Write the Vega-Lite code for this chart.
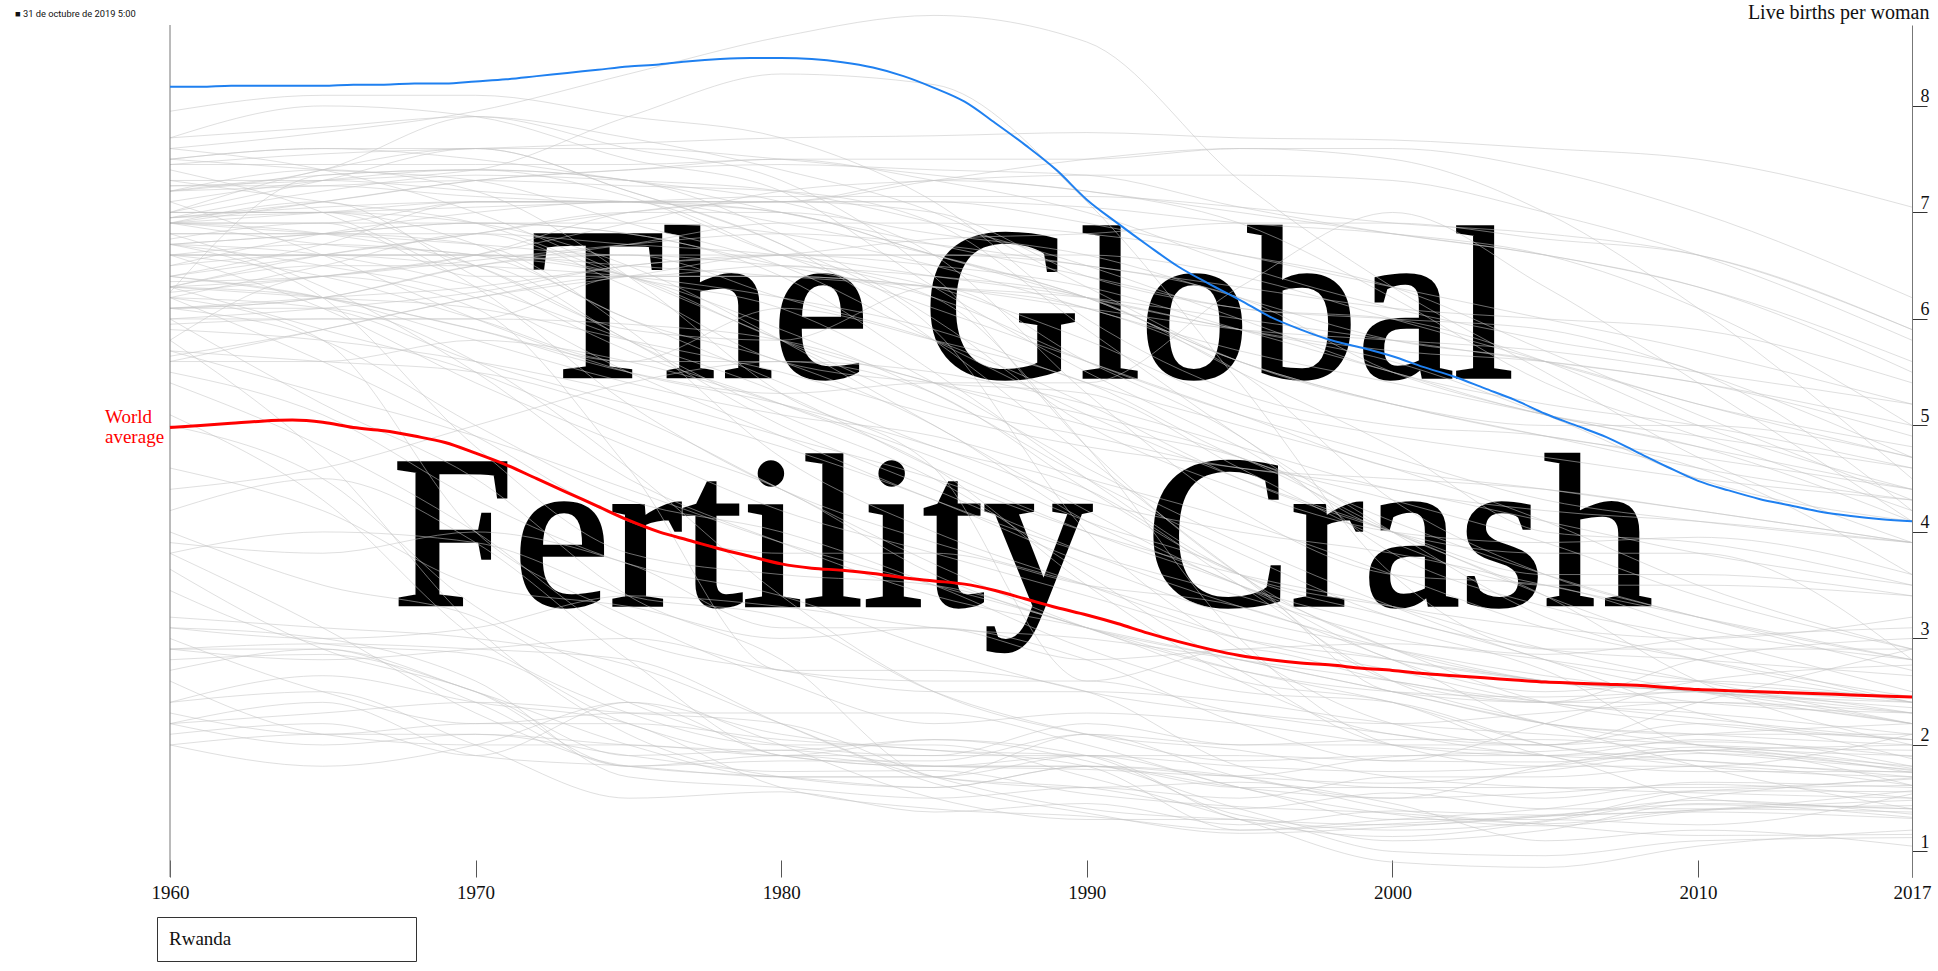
{
"$schema":"https://vega.github.io/schema/vega-lite/v6.json",
"width":1742,"height":852,
"autosize":{"type":"none"},
"padding":{"left":170,"top":25,"right":26,"bottom":94},
"background":"#ffffff",
"config":{"view":{"stroke":null},"font":"Liberation Serif",
 "axis":{"grid":false,"labelFont":"Liberation Serif","labelFontSize":19,"labelColor":"#111111","titleFont":"Liberation Serif"}},
"title":{"text":"■ 31 de octubre de 2019 5:00","anchor":"start","frame":"group","orient":"top","dx":-155,"dy":21.5,"offset":0,"baseline":"middle","font":"Liberation Sans Narrow, Roboto, sans-serif","fontSize":9.3,"fontWeight":"normal","color":"#111111"},
"datasets":{
"countries":[
{"c":"NER","y":1960,"v":7.45},{"c":"NER","y":1965,"v":7.55},{"c":"NER","y":1970,"v":7.6},{"c":"NER","y":1975,"v":7.65},{"c":"NER","y":1980,"v":7.7},{"c":"NER","y":1985,"v":7.72},{"c":"NER","y":1990,"v":7.75},{"c":"NER","y":1995,"v":7.7},{"c":"NER","y":2000,"v":7.68},{"c":"NER","y":2005,"v":7.6},{"c":"NER","y":2010,"v":7.5},{"c":"NER","y":2017,"v":7.05},
{"c":"YEM","y":1960,"v":7.6},{"c":"YEM","y":1965,"v":7.75},{"c":"YEM","y":1970,"v":7.95},{"c":"YEM","y":1975,"v":8.3},{"c":"YEM","y":1980,"v":8.65},{"c":"YEM","y":1985,"v":8.85},{"c":"YEM","y":1990,"v":8.6},{"c":"YEM","y":1995,"v":7.3},{"c":"YEM","y":2000,"v":6.3},{"c":"YEM","y":2005,"v":5.5},{"c":"YEM","y":2010,"v":4.7},{"c":"YEM","y":2017,"v":3.9},
{"c":"OMN","y":1960,"v":7.25},{"c":"OMN","y":1965,"v":7.3},{"c":"OMN","y":1970,"v":7.4},{"c":"OMN","y":1975,"v":7.9},{"c":"OMN","y":1980,"v":8.3},{"c":"OMN","y":1985,"v":8.2},{"c":"OMN","y":1990,"v":7.1},{"c":"OMN","y":1995,"v":5.4},{"c":"OMN","y":2000,"v":3.6},{"c":"OMN","y":2005,"v":2.9},{"c":"OMN","y":2010,"v":2.9},{"c":"OMN","y":2017,"v":2.9},
{"c":"SOM","y":1960,"v":7.25},{"c":"SOM","y":1965,"v":7.25},{"c":"SOM","y":1970,"v":7.15},{"c":"SOM","y":1975,"v":7.1},{"c":"SOM","y":1980,"v":7.1},{"c":"SOM","y":1985,"v":7.3},{"c":"SOM","y":1990,"v":7.5},{"c":"SOM","y":1995,"v":7.6},{"c":"SOM","y":2000,"v":7.6},{"c":"SOM","y":2005,"v":7.4},{"c":"SOM","y":2010,"v":7.0},{"c":"SOM","y":2017,"v":6.2},
{"c":"MLI","y":1960,"v":6.95},{"c":"MLI","y":1965,"v":7.0},{"c":"MLI","y":1970,"v":7.05},{"c":"MLI","y":1975,"v":7.1},{"c":"MLI","y":1980,"v":7.15},{"c":"MLI","y":1985,"v":7.15},{"c":"MLI","y":1990,"v":7.15},{"c":"MLI","y":1995,"v":7.05},{"c":"MLI","y":2000,"v":6.9},{"c":"MLI","y":2005,"v":6.8},{"c":"MLI","y":2010,"v":6.6},{"c":"MLI","y":2017,"v":5.9},
{"c":"TCD","y":1960,"v":6.25},{"c":"TCD","y":1965,"v":6.4},{"c":"TCD","y":1970,"v":6.6},{"c":"TCD","y":1975,"v":6.9},{"c":"TCD","y":1980,"v":7.2},{"c":"TCD","y":1985,"v":7.3},{"c":"TCD","y":1990,"v":7.35},{"c":"TCD","y":1995,"v":7.35},{"c":"TCD","y":2000,"v":7.3},{"c":"TCD","y":2005,"v":7.0},{"c":"TCD","y":2010,"v":6.6},{"c":"TCD","y":2017,"v":5.8},
{"c":"COD","y":1960,"v":6.0},{"c":"COD","y":1965,"v":6.1},{"c":"COD","y":1970,"v":6.25},{"c":"COD","y":1975,"v":6.5},{"c":"COD","y":1980,"v":6.6},{"c":"COD","y":1985,"v":6.75},{"c":"COD","y":1990,"v":6.8},{"c":"COD","y":1995,"v":6.9},{"c":"COD","y":2000,"v":6.9},{"c":"COD","y":2005,"v":6.75},{"c":"COD","y":2010,"v":6.6},{"c":"COD","y":2017,"v":5.9},
{"c":"AGO","y":1960,"v":7.0},{"c":"AGO","y":1965,"v":7.3},{"c":"AGO","y":1970,"v":7.6},{"c":"AGO","y":1975,"v":7.6},{"c":"AGO","y":1980,"v":7.5},{"c":"AGO","y":1985,"v":7.35},{"c":"AGO","y":1990,"v":7.2},{"c":"AGO","y":1995,"v":7.0},{"c":"AGO","y":2000,"v":6.8},{"c":"AGO","y":2005,"v":6.6},{"c":"AGO","y":2010,"v":6.3},{"c":"AGO","y":2017,"v":5.6},
{"c":"BDI","y":1960,"v":6.95},{"c":"BDI","y":1965,"v":7.1},{"c":"BDI","y":1970,"v":7.3},{"c":"BDI","y":1975,"v":7.4},{"c":"BDI","y":1980,"v":7.45},{"c":"BDI","y":1985,"v":7.4},{"c":"BDI","y":1990,"v":7.35},{"c":"BDI","y":1995,"v":7.05},{"c":"BDI","y":2000,"v":6.8},{"c":"BDI","y":2005,"v":6.6},{"c":"BDI","y":2010,"v":6.3},{"c":"BDI","y":2017,"v":5.5},
{"c":"UGA","y":1960,"v":6.95},{"c":"UGA","y":1965,"v":7.05},{"c":"UGA","y":1970,"v":7.1},{"c":"UGA","y":1975,"v":7.1},{"c":"UGA","y":1980,"v":7.1},{"c":"UGA","y":1985,"v":7.1},{"c":"UGA","y":1990,"v":7.05},{"c":"UGA","y":1995,"v":6.9},{"c":"UGA","y":2000,"v":6.8},{"c":"UGA","y":2005,"v":6.6},{"c":"UGA","y":2010,"v":6.1},{"c":"UGA","y":2017,"v":5.0},
{"c":"NGA","y":1960,"v":6.35},{"c":"NGA","y":1965,"v":6.4},{"c":"NGA","y":1970,"v":6.55},{"c":"NGA","y":1975,"v":6.7},{"c":"NGA","y":1980,"v":6.8},{"c":"NGA","y":1985,"v":6.7},{"c":"NGA","y":1990,"v":6.5},{"c":"NGA","y":1995,"v":6.3},{"c":"NGA","y":2000,"v":6.1},{"c":"NGA","y":2005,"v":6.0},{"c":"NGA","y":2010,"v":5.9},{"c":"NGA","y":2017,"v":5.4},
{"c":"KEN","y":1960,"v":7.95},{"c":"KEN","y":1965,"v":8.1},{"c":"KEN","y":1970,"v":8.1},{"c":"KEN","y":1975,"v":7.9},{"c":"KEN","y":1980,"v":7.7},{"c":"KEN","y":1985,"v":7.1},{"c":"KEN","y":1990,"v":6.0},{"c":"KEN","y":1995,"v":5.3},{"c":"KEN","y":2000,"v":5.0},{"c":"KEN","y":2005,"v":4.9},{"c":"KEN","y":2010,"v":4.6},{"c":"KEN","y":2017,"v":3.6},
{"c":"BFA","y":1960,"v":6.3},{"c":"BFA","y":1965,"v":6.4},{"c":"BFA","y":1970,"v":6.6},{"c":"BFA","y":1975,"v":7.0},{"c":"BFA","y":1980,"v":7.1},{"c":"BFA","y":1985,"v":7.1},{"c":"BFA","y":1990,"v":6.9},{"c":"BFA","y":1995,"v":6.6},{"c":"BFA","y":2000,"v":6.3},{"c":"BFA","y":2005,"v":6.0},{"c":"BFA","y":2010,"v":5.7},{"c":"BFA","y":2017,"v":5.2},
{"c":"TZA","y":1960,"v":6.8},{"c":"TZA","y":1965,"v":6.8},{"c":"TZA","y":1970,"v":6.8},{"c":"TZA","y":1975,"v":6.7},{"c":"TZA","y":1980,"v":6.6},{"c":"TZA","y":1985,"v":6.4},{"c":"TZA","y":1990,"v":6.2},{"c":"TZA","y":1995,"v":5.9},{"c":"TZA","y":2000,"v":5.7},{"c":"TZA","y":2005,"v":5.6},{"c":"TZA","y":2010,"v":5.4},{"c":"TZA","y":2017,"v":5.0},
{"c":"MOZ","y":1960,"v":6.6},{"c":"MOZ","y":1965,"v":6.6},{"c":"MOZ","y":1970,"v":6.6},{"c":"MOZ","y":1975,"v":6.5},{"c":"MOZ","y":1980,"v":6.4},{"c":"MOZ","y":1985,"v":6.3},{"c":"MOZ","y":1990,"v":6.2},{"c":"MOZ","y":1995,"v":6.0},{"c":"MOZ","y":2000,"v":5.8},{"c":"MOZ","y":2005,"v":5.6},{"c":"MOZ","y":2010,"v":5.4},{"c":"MOZ","y":2017,"v":4.9},
{"c":"ZMB","y":1960,"v":7.1},{"c":"ZMB","y":1965,"v":7.3},{"c":"ZMB","y":1970,"v":7.4},{"c":"ZMB","y":1975,"v":7.3},{"c":"ZMB","y":1980,"v":7.0},{"c":"ZMB","y":1985,"v":6.7},{"c":"ZMB","y":1990,"v":6.4},{"c":"ZMB","y":1995,"v":6.1},{"c":"ZMB","y":2000,"v":6.0},{"c":"ZMB","y":2005,"v":5.9},{"c":"ZMB","y":2010,"v":5.5},{"c":"ZMB","y":2017,"v":4.7},
{"c":"MWI","y":1960,"v":6.9},{"c":"MWI","y":1965,"v":7.1},{"c":"MWI","y":1970,"v":7.3},{"c":"MWI","y":1975,"v":7.4},{"c":"MWI","y":1980,"v":7.5},{"c":"MWI","y":1985,"v":7.3},{"c":"MWI","y":1990,"v":7.0},{"c":"MWI","y":1995,"v":6.5},{"c":"MWI","y":2000,"v":6.1},{"c":"MWI","y":2005,"v":5.8},{"c":"MWI","y":2010,"v":5.5},{"c":"MWI","y":2017,"v":4.2},
{"c":"ETH","y":1960,"v":6.9},{"c":"ETH","y":1965,"v":6.9},{"c":"ETH","y":1970,"v":7.1},{"c":"ETH","y":1975,"v":7.1},{"c":"ETH","y":1980,"v":7.1},{"c":"ETH","y":1985,"v":7.3},{"c":"ETH","y":1990,"v":7.2},{"c":"ETH","y":1995,"v":6.9},{"c":"ETH","y":2000,"v":6.2},{"c":"ETH","y":2005,"v":5.4},{"c":"ETH","y":2010,"v":4.9},{"c":"ETH","y":2017,"v":4.2},
{"c":"AFG","y":1960,"v":7.45},{"c":"AFG","y":1965,"v":7.45},{"c":"AFG","y":1970,"v":7.45},{"c":"AFG","y":1975,"v":7.45},{"c":"AFG","y":1980,"v":7.5},{"c":"AFG","y":1985,"v":7.5},{"c":"AFG","y":1990,"v":7.5},{"c":"AFG","y":1995,"v":7.6},{"c":"AFG","y":2000,"v":7.5},{"c":"AFG","y":2005,"v":7.0},{"c":"AFG","y":2010,"v":6.1},{"c":"AFG","y":2017,"v":4.5},
{"c":"JOR","y":1960,"v":7.7},{"c":"JOR","y":1965,"v":8.0},{"c":"JOR","y":1970,"v":7.9},{"c":"JOR","y":1975,"v":7.5},{"c":"JOR","y":1980,"v":7.2},{"c":"JOR","y":1985,"v":6.3},{"c":"JOR","y":1990,"v":5.5},{"c":"JOR","y":1995,"v":4.8},{"c":"JOR","y":2000,"v":4.0},{"c":"JOR","y":2005,"v":3.8},{"c":"JOR","y":2010,"v":3.8},{"c":"JOR","y":2017,"v":2.8},
{"c":"SYR","y":1960,"v":7.5},{"c":"SYR","y":1965,"v":7.6},{"c":"SYR","y":1970,"v":7.5},{"c":"SYR","y":1975,"v":7.3},{"c":"SYR","y":1980,"v":7.1},{"c":"SYR","y":1985,"v":6.6},{"c":"SYR","y":1990,"v":5.3},{"c":"SYR","y":1995,"v":4.2},{"c":"SYR","y":2000,"v":3.6},{"c":"SYR","y":2005,"v":3.5},{"c":"SYR","y":2010,"v":3.1},{"c":"SYR","y":2017,"v":2.8},
{"c":"SAU","y":1960,"v":7.2},{"c":"SAU","y":1965,"v":7.25},{"c":"SAU","y":1970,"v":7.3},{"c":"SAU","y":1975,"v":7.25},{"c":"SAU","y":1980,"v":7.2},{"c":"SAU","y":1985,"v":6.9},{"c":"SAU","y":1990,"v":5.9},{"c":"SAU","y":1995,"v":4.9},{"c":"SAU","y":2000,"v":4.0},{"c":"SAU","y":2005,"v":3.2},{"c":"SAU","y":2010,"v":2.8},{"c":"SAU","y":2017,"v":2.4},
{"c":"IRN","y":1960,"v":6.9},{"c":"IRN","y":1965,"v":6.9},{"c":"IRN","y":1970,"v":6.4},{"c":"IRN","y":1975,"v":6.4},{"c":"IRN","y":1980,"v":6.5},{"c":"IRN","y":1985,"v":6.2},{"c":"IRN","y":1990,"v":4.8},{"c":"IRN","y":1995,"v":3.0},{"c":"IRN","y":2000,"v":2.0},{"c":"IRN","y":2005,"v":1.8},{"c":"IRN","y":2010,"v":1.8},{"c":"IRN","y":2017,"v":2.1},
{"c":"DZA","y":1960,"v":7.5},{"c":"DZA","y":1965,"v":7.6},{"c":"DZA","y":1970,"v":7.6},{"c":"DZA","y":1975,"v":7.2},{"c":"DZA","y":1980,"v":6.7},{"c":"DZA","y":1985,"v":5.8},{"c":"DZA","y":1990,"v":4.7},{"c":"DZA","y":1995,"v":3.6},{"c":"DZA","y":2000,"v":2.6},{"c":"DZA","y":2005,"v":2.4},{"c":"DZA","y":2010,"v":2.8},{"c":"DZA","y":2017,"v":3.0},
{"c":"LBY","y":1960,"v":7.2},{"c":"LBY","y":1965,"v":7.4},{"c":"LBY","y":1970,"v":7.9},{"c":"LBY","y":1975,"v":7.6},{"c":"LBY","y":1980,"v":7.3},{"c":"LBY","y":1985,"v":6.4},{"c":"LBY","y":1990,"v":4.8},{"c":"LBY","y":1995,"v":3.6},{"c":"LBY","y":2000,"v":2.9},{"c":"LBY","y":2005,"v":2.6},{"c":"LBY","y":2010,"v":2.5},{"c":"LBY","y":2017,"v":2.2},
{"c":"MAR","y":1960,"v":7.0},{"c":"MAR","y":1965,"v":7.0},{"c":"MAR","y":1970,"v":6.7},{"c":"MAR","y":1975,"v":6.0},{"c":"MAR","y":1980,"v":5.6},{"c":"MAR","y":1985,"v":5.0},{"c":"MAR","y":1990,"v":4.1},{"c":"MAR","y":1995,"v":3.5},{"c":"MAR","y":2000,"v":2.8},{"c":"MAR","y":2005,"v":2.5},{"c":"MAR","y":2010,"v":2.6},{"c":"MAR","y":2017,"v":2.4},
{"c":"IRQ","y":1960,"v":6.25},{"c":"IRQ","y":1965,"v":7.35},{"c":"IRQ","y":1970,"v":7.4},{"c":"IRQ","y":1975,"v":7.15},{"c":"IRQ","y":1980,"v":6.6},{"c":"IRQ","y":1985,"v":6.3},{"c":"IRQ","y":1990,"v":5.8},{"c":"IRQ","y":1995,"v":5.2},{"c":"IRQ","y":2000,"v":4.9},{"c":"IRQ","y":2005,"v":4.7},{"c":"IRQ","y":2010,"v":4.5},{"c":"IRQ","y":2017,"v":4.3},
{"c":"EGY","y":1960,"v":6.6},{"c":"EGY","y":1965,"v":6.4},{"c":"EGY","y":1970,"v":6.0},{"c":"EGY","y":1975,"v":5.6},{"c":"EGY","y":1980,"v":5.6},{"c":"EGY","y":1985,"v":5.3},{"c":"EGY","y":1990,"v":4.4},{"c":"EGY","y":1995,"v":3.6},{"c":"EGY","y":2000,"v":3.3},{"c":"EGY","y":2005,"v":3.1},{"c":"EGY","y":2010,"v":3.0},{"c":"EGY","y":2017,"v":3.2},
{"c":"PAK","y":1960,"v":6.6},{"c":"PAK","y":1965,"v":6.6},{"c":"PAK","y":1970,"v":6.6},{"c":"PAK","y":1975,"v":6.6},{"c":"PAK","y":1980,"v":6.5},{"c":"PAK","y":1985,"v":6.4},{"c":"PAK","y":1990,"v":6.2},{"c":"PAK","y":1995,"v":5.5},{"c":"PAK","y":2000,"v":4.8},{"c":"PAK","y":2005,"v":4.0},{"c":"PAK","y":2010,"v":3.9},{"c":"PAK","y":2017,"v":3.5},
{"c":"BGD","y":1960,"v":6.7},{"c":"BGD","y":1965,"v":6.8},{"c":"BGD","y":1970,"v":6.9},{"c":"BGD","y":1975,"v":6.8},{"c":"BGD","y":1980,"v":6.4},{"c":"BGD","y":1985,"v":5.5},{"c":"BGD","y":1990,"v":4.5},{"c":"BGD","y":1995,"v":3.6},{"c":"BGD","y":2000,"v":3.2},{"c":"BGD","y":2005,"v":2.8},{"c":"BGD","y":2010,"v":2.3},{"c":"BGD","y":2017,"v":2.05},
{"c":"IND","y":1960,"v":5.9},{"c":"IND","y":1965,"v":5.8},{"c":"IND","y":1970,"v":5.6},{"c":"IND","y":1975,"v":5.3},{"c":"IND","y":1980,"v":4.9},{"c":"IND","y":1985,"v":4.5},{"c":"IND","y":1990,"v":4.0},{"c":"IND","y":1995,"v":3.6},{"c":"IND","y":2000,"v":3.3},{"c":"IND","y":2005,"v":2.9},{"c":"IND","y":2010,"v":2.6},{"c":"IND","y":2017,"v":2.2},
{"c":"IDN","y":1960,"v":5.7},{"c":"IDN","y":1965,"v":5.6},{"c":"IDN","y":1970,"v":5.5},{"c":"IDN","y":1975,"v":5.1},{"c":"IDN","y":1980,"v":4.4},{"c":"IDN","y":1985,"v":3.7},{"c":"IDN","y":1990,"v":3.1},{"c":"IDN","y":1995,"v":2.7},{"c":"IDN","y":2000,"v":2.5},{"c":"IDN","y":2005,"v":2.45},{"c":"IDN","y":2010,"v":2.5},{"c":"IDN","y":2017,"v":2.3},
{"c":"PHL","y":1960,"v":7.1},{"c":"PHL","y":1965,"v":6.6},{"c":"PHL","y":1970,"v":6.0},{"c":"PHL","y":1975,"v":5.5},{"c":"PHL","y":1980,"v":5.2},{"c":"PHL","y":1985,"v":4.8},{"c":"PHL","y":1990,"v":4.3},{"c":"PHL","y":1995,"v":4.0},{"c":"PHL","y":2000,"v":3.8},{"c":"PHL","y":2005,"v":3.5},{"c":"PHL","y":2010,"v":3.2},{"c":"PHL","y":2017,"v":2.8},
{"c":"MEX","y":1960,"v":6.8},{"c":"MEX","y":1965,"v":6.8},{"c":"MEX","y":1970,"v":6.7},{"c":"MEX","y":1975,"v":5.9},{"c":"MEX","y":1980,"v":4.7},{"c":"MEX","y":1985,"v":4.0},{"c":"MEX","y":1990,"v":3.5},{"c":"MEX","y":1995,"v":3.0},{"c":"MEX","y":2000,"v":2.7},{"c":"MEX","y":2005,"v":2.4},{"c":"MEX","y":2010,"v":2.3},{"c":"MEX","y":2017,"v":2.1},
{"c":"BRA","y":1960,"v":6.1},{"c":"BRA","y":1965,"v":5.8},{"c":"BRA","y":1970,"v":5.0},{"c":"BRA","y":1975,"v":4.3},{"c":"BRA","y":1980,"v":4.0},{"c":"BRA","y":1985,"v":3.5},{"c":"BRA","y":1990,"v":2.9},{"c":"BRA","y":1995,"v":2.5},{"c":"BRA","y":2000,"v":2.4},{"c":"BRA","y":2005,"v":2.0},{"c":"BRA","y":2010,"v":1.8},{"c":"BRA","y":2017,"v":1.7},
{"c":"COL","y":1960,"v":6.8},{"c":"COL","y":1965,"v":6.3},{"c":"COL","y":1970,"v":5.5},{"c":"COL","y":1975,"v":4.5},{"c":"COL","y":1980,"v":3.9},{"c":"COL","y":1985,"v":3.4},{"c":"COL","y":1990,"v":3.1},{"c":"COL","y":1995,"v":2.8},{"c":"COL","y":2000,"v":2.5},{"c":"COL","y":2005,"v":2.2},{"c":"COL","y":2010,"v":2.0},{"c":"COL","y":2017,"v":1.8},
{"c":"PER","y":1960,"v":6.9},{"c":"PER","y":1965,"v":6.8},{"c":"PER","y":1970,"v":6.5},{"c":"PER","y":1975,"v":5.8},{"c":"PER","y":1980,"v":5.0},{"c":"PER","y":1985,"v":4.4},{"c":"PER","y":1990,"v":3.8},{"c":"PER","y":1995,"v":3.3},{"c":"PER","y":2000,"v":2.9},{"c":"PER","y":2005,"v":2.6},{"c":"PER","y":2010,"v":2.5},{"c":"PER","y":2017,"v":2.3},
{"c":"BOL","y":1960,"v":6.5},{"c":"BOL","y":1965,"v":6.6},{"c":"BOL","y":1970,"v":6.6},{"c":"BOL","y":1975,"v":6.4},{"c":"BOL","y":1980,"v":5.8},{"c":"BOL","y":1985,"v":5.4},{"c":"BOL","y":1990,"v":5.0},{"c":"BOL","y":1995,"v":4.7},{"c":"BOL","y":2000,"v":4.1},{"c":"BOL","y":2005,"v":3.6},{"c":"BOL","y":2010,"v":3.2},{"c":"BOL","y":2017,"v":2.8},
{"c":"GTM","y":1960,"v":6.6},{"c":"GTM","y":1965,"v":6.6},{"c":"GTM","y":1970,"v":6.5},{"c":"GTM","y":1975,"v":6.4},{"c":"GTM","y":1980,"v":6.2},{"c":"GTM","y":1985,"v":5.9},{"c":"GTM","y":1990,"v":5.4},{"c":"GTM","y":1995,"v":5.0},{"c":"GTM","y":2000,"v":4.6},{"c":"GTM","y":2005,"v":4.1},{"c":"GTM","y":2010,"v":3.5},{"c":"GTM","y":2017,"v":2.9},
{"c":"HND","y":1960,"v":7.5},{"c":"HND","y":1965,"v":7.4},{"c":"HND","y":1970,"v":7.3},{"c":"HND","y":1975,"v":6.9},{"c":"HND","y":1980,"v":6.5},{"c":"HND","y":1985,"v":5.8},{"c":"HND","y":1990,"v":5.1},{"c":"HND","y":1995,"v":4.5},{"c":"HND","y":2000,"v":4.0},{"c":"HND","y":2005,"v":3.4},{"c":"HND","y":2010,"v":2.9},{"c":"HND","y":2017,"v":2.4},
{"c":"NIC","y":1960,"v":7.3},{"c":"NIC","y":1965,"v":7.1},{"c":"NIC","y":1970,"v":6.9},{"c":"NIC","y":1975,"v":6.4},{"c":"NIC","y":1980,"v":6.1},{"c":"NIC","y":1985,"v":5.4},{"c":"NIC","y":1990,"v":4.6},{"c":"NIC","y":1995,"v":3.9},{"c":"NIC","y":2000,"v":3.3},{"c":"NIC","y":2005,"v":2.8},{"c":"NIC","y":2010,"v":2.5},{"c":"NIC","y":2017,"v":2.2},
{"c":"TUR","y":1960,"v":6.3},{"c":"TUR","y":1965,"v":5.9},{"c":"TUR","y":1970,"v":5.5},{"c":"TUR","y":1975,"v":4.9},{"c":"TUR","y":1980,"v":4.4},{"c":"TUR","y":1985,"v":3.6},{"c":"TUR","y":1990,"v":3.1},{"c":"TUR","y":1995,"v":2.8},{"c":"TUR","y":2000,"v":2.5},{"c":"TUR","y":2005,"v":2.2},{"c":"TUR","y":2010,"v":2.1},{"c":"TUR","y":2017,"v":2.1},
{"c":"THA","y":1960,"v":6.1},{"c":"THA","y":1965,"v":6.1},{"c":"THA","y":1970,"v":5.6},{"c":"THA","y":1975,"v":4.6},{"c":"THA","y":1980,"v":3.4},{"c":"THA","y":1985,"v":2.5},{"c":"THA","y":1990,"v":2.1},{"c":"THA","y":1995,"v":1.95},{"c":"THA","y":2000,"v":1.7},{"c":"THA","y":2005,"v":1.6},{"c":"THA","y":2010,"v":1.55},{"c":"THA","y":2017,"v":1.5},
{"c":"KOR","y":1960,"v":6.0},{"c":"KOR","y":1965,"v":5.2},{"c":"KOR","y":1970,"v":4.5},{"c":"KOR","y":1975,"v":3.4},{"c":"KOR","y":1980,"v":2.8},{"c":"KOR","y":1985,"v":1.7},{"c":"KOR","y":1990,"v":1.6},{"c":"KOR","y":1995,"v":1.65},{"c":"KOR","y":2000,"v":1.45},{"c":"KOR","y":2005,"v":1.1},{"c":"KOR","y":2010,"v":1.2},{"c":"KOR","y":2017,"v":1.05},
{"c":"CHN","y":1960,"v":5.8},{"c":"CHN","y":1965,"v":6.4},{"c":"CHN","y":1970,"v":6.1},{"c":"CHN","y":1975,"v":4.6},{"c":"CHN","y":1980,"v":2.7},{"c":"CHN","y":1985,"v":2.7},{"c":"CHN","y":1990,"v":2.5},{"c":"CHN","y":1995,"v":1.8},{"c":"CHN","y":2000,"v":1.6},{"c":"CHN","y":2005,"v":1.6},{"c":"CHN","y":2010,"v":1.6},{"c":"CHN","y":2017,"v":1.68},
{"c":"VNM","y":1960,"v":6.3},{"c":"VNM","y":1965,"v":6.5},{"c":"VNM","y":1970,"v":6.5},{"c":"VNM","y":1975,"v":5.8},{"c":"VNM","y":1980,"v":5.1},{"c":"VNM","y":1985,"v":4.5},{"c":"VNM","y":1990,"v":3.6},{"c":"VNM","y":1995,"v":2.7},{"c":"VNM","y":2000,"v":2.0},{"c":"VNM","y":2005,"v":1.9},{"c":"VNM","y":2010,"v":1.95},{"c":"VNM","y":2017,"v":2.0},
{"c":"SGP","y":1960,"v":5.8},{"c":"SGP","y":1965,"v":4.7},{"c":"SGP","y":1970,"v":3.1},{"c":"SGP","y":1975,"v":2.1},{"c":"SGP","y":1980,"v":1.7},{"c":"SGP","y":1985,"v":1.6},{"c":"SGP","y":1990,"v":1.8},{"c":"SGP","y":1995,"v":1.7},{"c":"SGP","y":2000,"v":1.4},{"c":"SGP","y":2005,"v":1.25},{"c":"SGP","y":2010,"v":1.15},{"c":"SGP","y":2017,"v":1.16},
{"c":"HKG","y":1960,"v":5.0},{"c":"HKG","y":1965,"v":4.5},{"c":"HKG","y":1970,"v":3.3},{"c":"HKG","y":1975,"v":2.6},{"c":"HKG","y":1980,"v":2.0},{"c":"HKG","y":1985,"v":1.5},{"c":"HKG","y":1990,"v":1.3},{"c":"HKG","y":1995,"v":1.3},{"c":"HKG","y":2000,"v":1.0},{"c":"HKG","y":2005,"v":0.96},{"c":"HKG","y":2010,"v":1.1},{"c":"HKG","y":2017,"v":1.13},
{"c":"MAC","y":1960,"v":5.1},{"c":"MAC","y":1965,"v":4.3},{"c":"MAC","y":1970,"v":3.0},{"c":"MAC","y":1975,"v":2.3},{"c":"MAC","y":1980,"v":2.0},{"c":"MAC","y":1985,"v":2.0},{"c":"MAC","y":1990,"v":1.7},{"c":"MAC","y":1995,"v":1.3},{"c":"MAC","y":2000,"v":0.9},{"c":"MAC","y":2005,"v":0.85},{"c":"MAC","y":2010,"v":1.05},{"c":"MAC","y":2017,"v":1.2},
{"c":"ZAF","y":1960,"v":6.2},{"c":"ZAF","y":1965,"v":6.1},{"c":"ZAF","y":1970,"v":5.6},{"c":"ZAF","y":1975,"v":5.2},{"c":"ZAF","y":1980,"v":4.8},{"c":"ZAF","y":1985,"v":4.3},{"c":"ZAF","y":1990,"v":3.7},{"c":"ZAF","y":1995,"v":3.2},{"c":"ZAF","y":2000,"v":2.9},{"c":"ZAF","y":2005,"v":2.65},{"c":"ZAF","y":2010,"v":2.5},{"c":"ZAF","y":2017,"v":2.4},
{"c":"GHA","y":1960,"v":6.75},{"c":"GHA","y":1965,"v":6.9},{"c":"GHA","y":1970,"v":6.9},{"c":"GHA","y":1975,"v":6.8},{"c":"GHA","y":1980,"v":6.5},{"c":"GHA","y":1985,"v":6.2},{"c":"GHA","y":1990,"v":5.6},{"c":"GHA","y":1995,"v":5.1},{"c":"GHA","y":2000,"v":4.7},{"c":"GHA","y":2005,"v":4.3},{"c":"GHA","y":2010,"v":4.1},{"c":"GHA","y":2017,"v":3.9},
{"c":"SEN","y":1960,"v":6.95},{"c":"SEN","y":1965,"v":7.2},{"c":"SEN","y":1970,"v":7.35},{"c":"SEN","y":1975,"v":7.3},{"c":"SEN","y":1980,"v":7.2},{"c":"SEN","y":1985,"v":6.9},{"c":"SEN","y":1990,"v":6.5},{"c":"SEN","y":1995,"v":6.0},{"c":"SEN","y":2000,"v":5.5},{"c":"SEN","y":2005,"v":5.2},{"c":"SEN","y":2010,"v":5.0},{"c":"SEN","y":2017,"v":4.6},
{"c":"CMR","y":1960,"v":5.65},{"c":"CMR","y":1965,"v":5.9},{"c":"CMR","y":1970,"v":6.2},{"c":"CMR","y":1975,"v":6.4},{"c":"CMR","y":1980,"v":6.6},{"c":"CMR","y":1985,"v":6.5},{"c":"CMR","y":1990,"v":6.3},{"c":"CMR","y":1995,"v":5.9},{"c":"CMR","y":2000,"v":5.5},{"c":"CMR","y":2005,"v":5.1},{"c":"CMR","y":2010,"v":4.9},{"c":"CMR","y":2017,"v":4.6},
{"c":"SDN","y":1960,"v":6.7},{"c":"SDN","y":1965,"v":6.8},{"c":"SDN","y":1970,"v":6.9},{"c":"SDN","y":1975,"v":6.9},{"c":"SDN","y":1980,"v":6.8},{"c":"SDN","y":1985,"v":6.5},{"c":"SDN","y":1990,"v":6.1},{"c":"SDN","y":1995,"v":5.7},{"c":"SDN","y":2000,"v":5.4},{"c":"SDN","y":2005,"v":5.1},{"c":"SDN","y":2010,"v":4.8},{"c":"SDN","y":2017,"v":4.4},
{"c":"MDG","y":1960,"v":7.3},{"c":"MDG","y":1965,"v":7.3},{"c":"MDG","y":1970,"v":7.2},{"c":"MDG","y":1975,"v":7.1},{"c":"MDG","y":1980,"v":7.0},{"c":"MDG","y":1985,"v":6.6},{"c":"MDG","y":1990,"v":6.2},{"c":"MDG","y":1995,"v":5.9},{"c":"MDG","y":2000,"v":5.6},{"c":"MDG","y":2005,"v":5.1},{"c":"MDG","y":2010,"v":4.5},{"c":"MDG","y":2017,"v":4.1},
{"c":"ZWE","y":1960,"v":7.2},{"c":"ZWE","y":1965,"v":7.35},{"c":"ZWE","y":1970,"v":7.4},{"c":"ZWE","y":1975,"v":7.3},{"c":"ZWE","y":1980,"v":6.8},{"c":"ZWE","y":1985,"v":6.0},{"c":"ZWE","y":1990,"v":5.0},{"c":"ZWE","y":1995,"v":4.4},{"c":"ZWE","y":2000,"v":4.0},{"c":"ZWE","y":2005,"v":3.9},{"c":"ZWE","y":2010,"v":3.95},{"c":"ZWE","y":2017,"v":3.6},
{"c":"BWA","y":1960,"v":6.6},{"c":"BWA","y":1965,"v":6.7},{"c":"BWA","y":1970,"v":6.6},{"c":"BWA","y":1975,"v":6.4},{"c":"BWA","y":1980,"v":5.9},{"c":"BWA","y":1985,"v":5.3},{"c":"BWA","y":1990,"v":4.5},{"c":"BWA","y":1995,"v":3.8},{"c":"BWA","y":2000,"v":3.2},{"c":"BWA","y":2005,"v":2.9},{"c":"BWA","y":2010,"v":2.8},{"c":"BWA","y":2017,"v":2.65},
{"c":"CIV","y":1960,"v":7.7},{"c":"CIV","y":1965,"v":7.8},{"c":"CIV","y":1970,"v":7.9},{"c":"CIV","y":1975,"v":7.7},{"c":"CIV","y":1980,"v":7.4},{"c":"CIV","y":1985,"v":7.0},{"c":"CIV","y":1990,"v":6.3},{"c":"CIV","y":1995,"v":5.6},{"c":"CIV","y":2000,"v":5.2},{"c":"CIV","y":2005,"v":5.0},{"c":"CIV","y":2010,"v":5.0},{"c":"CIV","y":2017,"v":4.7},
{"c":"BEN","y":1960,"v":6.3},{"c":"BEN","y":1965,"v":6.6},{"c":"BEN","y":1970,"v":6.8},{"c":"BEN","y":1975,"v":7.0},{"c":"BEN","y":1980,"v":7.0},{"c":"BEN","y":1985,"v":6.8},{"c":"BEN","y":1990,"v":6.6},{"c":"BEN","y":1995,"v":6.2},{"c":"BEN","y":2000,"v":5.8},{"c":"BEN","y":2005,"v":5.6},{"c":"BEN","y":2010,"v":5.2},{"c":"BEN","y":2017,"v":4.8},
{"c":"MNG","y":1960,"v":7.0},{"c":"MNG","y":1965,"v":7.4},{"c":"MNG","y":1970,"v":7.6},{"c":"MNG","y":1975,"v":7.2},{"c":"MNG","y":1980,"v":6.7},{"c":"MNG","y":1985,"v":5.9},{"c":"MNG","y":1990,"v":4.0},{"c":"MNG","y":1995,"v":2.9},{"c":"MNG","y":2000,"v":2.2},{"c":"MNG","y":2005,"v":2.0},{"c":"MNG","y":2010,"v":2.4},{"c":"MNG","y":2017,"v":2.9},
{"c":"NPL","y":1960,"v":5.95},{"c":"NPL","y":1965,"v":6.0},{"c":"NPL","y":1970,"v":6.0},{"c":"NPL","y":1975,"v":5.95},{"c":"NPL","y":1980,"v":5.8},{"c":"NPL","y":1985,"v":5.4},{"c":"NPL","y":1990,"v":5.1},{"c":"NPL","y":1995,"v":4.7},{"c":"NPL","y":2000,"v":4.0},{"c":"NPL","y":2005,"v":3.4},{"c":"NPL","y":2010,"v":2.6},{"c":"NPL","y":2017,"v":2.0},
{"c":"KHM","y":1960,"v":7.0},{"c":"KHM","y":1965,"v":7.0},{"c":"KHM","y":1970,"v":6.5},{"c":"KHM","y":1975,"v":5.9},{"c":"KHM","y":1980,"v":5.8},{"c":"KHM","y":1985,"v":6.3},{"c":"KHM","y":1990,"v":5.6},{"c":"KHM","y":1995,"v":4.9},{"c":"KHM","y":2000,"v":3.8},{"c":"KHM","y":2005,"v":3.3},{"c":"KHM","y":2010,"v":3.0},{"c":"KHM","y":2017,"v":2.5},
{"c":"LAO","y":1960,"v":6.0},{"c":"LAO","y":1965,"v":6.0},{"c":"LAO","y":1970,"v":6.0},{"c":"LAO","y":1975,"v":6.4},{"c":"LAO","y":1980,"v":6.4},{"c":"LAO","y":1985,"v":6.3},{"c":"LAO","y":1990,"v":6.1},{"c":"LAO","y":1995,"v":5.5},{"c":"LAO","y":2000,"v":4.3},{"c":"LAO","y":2005,"v":3.6},{"c":"LAO","y":2010,"v":3.2},{"c":"LAO","y":2017,"v":2.7},
{"c":"MYS","y":1960,"v":6.2},{"c":"MYS","y":1965,"v":5.6},{"c":"MYS","y":1970,"v":4.9},{"c":"MYS","y":1975,"v":4.1},{"c":"MYS","y":1980,"v":3.8},{"c":"MYS","y":1985,"v":3.8},{"c":"MYS","y":1990,"v":3.5},{"c":"MYS","y":1995,"v":3.3},{"c":"MYS","y":2000,"v":2.8},{"c":"MYS","y":2005,"v":2.2},{"c":"MYS","y":2010,"v":2.1},{"c":"MYS","y":2017,"v":2.0},
{"c":"LKA","y":1960,"v":5.5},{"c":"LKA","y":1965,"v":5.1},{"c":"LKA","y":1970,"v":4.3},{"c":"LKA","y":1975,"v":3.7},{"c":"LKA","y":1980,"v":3.4},{"c":"LKA","y":1985,"v":2.9},{"c":"LKA","y":1990,"v":2.5},{"c":"LKA","y":1995,"v":2.3},{"c":"LKA","y":2000,"v":2.2},{"c":"LKA","y":2005,"v":2.3},{"c":"LKA","y":2010,"v":2.4},{"c":"LKA","y":2017,"v":2.2},
{"c":"ARG","y":1960,"v":3.1},{"c":"ARG","y":1965,"v":3.0},{"c":"ARG","y":1970,"v":3.1},{"c":"ARG","y":1975,"v":3.4},{"c":"ARG","y":1980,"v":3.3},{"c":"ARG","y":1985,"v":3.1},{"c":"ARG","y":1990,"v":3.0},{"c":"ARG","y":1995,"v":2.8},{"c":"ARG","y":2000,"v":2.6},{"c":"ARG","y":2005,"v":2.4},{"c":"ARG","y":2010,"v":2.4},{"c":"ARG","y":2017,"v":2.3},
{"c":"CHL","y":1960,"v":5.4},{"c":"CHL","y":1965,"v":4.8},{"c":"CHL","y":1970,"v":4.0},{"c":"CHL","y":1975,"v":3.0},{"c":"CHL","y":1980,"v":2.7},{"c":"CHL","y":1985,"v":2.6},{"c":"CHL","y":1990,"v":2.6},{"c":"CHL","y":1995,"v":2.3},{"c":"CHL","y":2000,"v":2.1},{"c":"CHL","y":2005,"v":1.9},{"c":"CHL","y":2010,"v":1.85},{"c":"CHL","y":2017,"v":1.7},
{"c":"URY","y":1960,"v":2.9},{"c":"URY","y":1965,"v":2.8},{"c":"URY","y":1970,"v":2.9},{"c":"URY","y":1975,"v":3.0},{"c":"URY","y":1980,"v":2.7},{"c":"URY","y":1985,"v":2.5},{"c":"URY","y":1990,"v":2.5},{"c":"URY","y":1995,"v":2.4},{"c":"URY","y":2000,"v":2.2},{"c":"URY","y":2005,"v":2.1},{"c":"URY","y":2010,"v":2.0},{"c":"URY","y":2017,"v":1.95},
{"c":"CUB","y":1960,"v":4.2},{"c":"CUB","y":1965,"v":4.5},{"c":"CUB","y":1970,"v":3.9},{"c":"CUB","y":1975,"v":2.8},{"c":"CUB","y":1980,"v":1.9},{"c":"CUB","y":1985,"v":1.8},{"c":"CUB","y":1990,"v":1.8},{"c":"CUB","y":1995,"v":1.6},{"c":"CUB","y":2000,"v":1.6},{"c":"CUB","y":2005,"v":1.5},{"c":"CUB","y":2010,"v":1.65},{"c":"CUB","y":2017,"v":1.6},
{"c":"USA","y":1960,"v":3.65},{"c":"USA","y":1965,"v":2.9},{"c":"USA","y":1970,"v":2.5},{"c":"USA","y":1975,"v":1.8},{"c":"USA","y":1980,"v":1.85},{"c":"USA","y":1985,"v":1.85},{"c":"USA","y":1990,"v":2.1},{"c":"USA","y":1995,"v":2.0},{"c":"USA","y":2000,"v":2.05},{"c":"USA","y":2005,"v":2.05},{"c":"USA","y":2010,"v":1.93},{"c":"USA","y":2017,"v":1.77},
{"c":"CAN","y":1960,"v":3.8},{"c":"CAN","y":1965,"v":3.1},{"c":"CAN","y":1970,"v":2.3},{"c":"CAN","y":1975,"v":1.8},{"c":"CAN","y":1980,"v":1.7},{"c":"CAN","y":1985,"v":1.6},{"c":"CAN","y":1990,"v":1.8},{"c":"CAN","y":1995,"v":1.6},{"c":"CAN","y":2000,"v":1.5},{"c":"CAN","y":2005,"v":1.55},{"c":"CAN","y":2010,"v":1.63},{"c":"CAN","y":2017,"v":1.5},
{"c":"AUS","y":1960,"v":3.45},{"c":"AUS","y":1965,"v":2.95},{"c":"AUS","y":1970,"v":2.85},{"c":"AUS","y":1975,"v":2.2},{"c":"AUS","y":1980,"v":1.9},{"c":"AUS","y":1985,"v":1.9},{"c":"AUS","y":1990,"v":1.9},{"c":"AUS","y":1995,"v":1.8},{"c":"AUS","y":2000,"v":1.75},{"c":"AUS","y":2005,"v":1.8},{"c":"AUS","y":2010,"v":1.95},{"c":"AUS","y":2017,"v":1.74},
{"c":"NZL","y":1960,"v":4.0},{"c":"NZL","y":1965,"v":3.5},{"c":"NZL","y":1970,"v":3.2},{"c":"NZL","y":1975,"v":2.4},{"c":"NZL","y":1980,"v":2.0},{"c":"NZL","y":1985,"v":1.9},{"c":"NZL","y":1990,"v":2.2},{"c":"NZL","y":1995,"v":2.0},{"c":"NZL","y":2000,"v":2.0},{"c":"NZL","y":2005,"v":2.0},{"c":"NZL","y":2010,"v":2.2},{"c":"NZL","y":2017,"v":1.87},
{"c":"IRL","y":1960,"v":3.8},{"c":"IRL","y":1965,"v":4.0},{"c":"IRL","y":1970,"v":3.9},{"c":"IRL","y":1975,"v":3.4},{"c":"IRL","y":1980,"v":3.2},{"c":"IRL","y":1985,"v":2.5},{"c":"IRL","y":1990,"v":2.1},{"c":"IRL","y":1995,"v":1.85},{"c":"IRL","y":2000,"v":1.9},{"c":"IRL","y":2005,"v":1.9},{"c":"IRL","y":2010,"v":2.05},{"c":"IRL","y":2017,"v":1.8},
{"c":"GBR","y":1960,"v":2.7},{"c":"GBR","y":1965,"v":2.9},{"c":"GBR","y":1970,"v":2.4},{"c":"GBR","y":1975,"v":1.8},{"c":"GBR","y":1980,"v":1.9},{"c":"GBR","y":1985,"v":1.8},{"c":"GBR","y":1990,"v":1.8},{"c":"GBR","y":1995,"v":1.7},{"c":"GBR","y":2000,"v":1.64},{"c":"GBR","y":2005,"v":1.76},{"c":"GBR","y":2010,"v":1.92},{"c":"GBR","y":2017,"v":1.76},
{"c":"FRA","y":1960,"v":2.8},{"c":"FRA","y":1965,"v":2.85},{"c":"FRA","y":1970,"v":2.5},{"c":"FRA","y":1975,"v":1.9},{"c":"FRA","y":1980,"v":1.95},{"c":"FRA","y":1985,"v":1.8},{"c":"FRA","y":1990,"v":1.77},{"c":"FRA","y":1995,"v":1.71},{"c":"FRA","y":2000,"v":1.89},{"c":"FRA","y":2005,"v":1.94},{"c":"FRA","y":2010,"v":2.03},{"c":"FRA","y":2017,"v":1.89},
{"c":"DEU","y":1960,"v":2.4},{"c":"DEU","y":1965,"v":2.5},{"c":"DEU","y":1970,"v":2.0},{"c":"DEU","y":1975,"v":1.5},{"c":"DEU","y":1980,"v":1.56},{"c":"DEU","y":1985,"v":1.37},{"c":"DEU","y":1990,"v":1.45},{"c":"DEU","y":1995,"v":1.25},{"c":"DEU","y":2000,"v":1.38},{"c":"DEU","y":2005,"v":1.34},{"c":"DEU","y":2010,"v":1.39},{"c":"DEU","y":2017,"v":1.57},
{"c":"ITA","y":1960,"v":2.4},{"c":"ITA","y":1965,"v":2.65},{"c":"ITA","y":1970,"v":2.4},{"c":"ITA","y":1975,"v":2.2},{"c":"ITA","y":1980,"v":1.6},{"c":"ITA","y":1985,"v":1.4},{"c":"ITA","y":1990,"v":1.33},{"c":"ITA","y":1995,"v":1.2},{"c":"ITA","y":2000,"v":1.26},{"c":"ITA","y":2005,"v":1.34},{"c":"ITA","y":2010,"v":1.44},{"c":"ITA","y":2017,"v":1.32},
{"c":"ESP","y":1960,"v":2.9},{"c":"ESP","y":1965,"v":2.95},{"c":"ESP","y":1970,"v":2.9},{"c":"ESP","y":1975,"v":2.8},{"c":"ESP","y":1980,"v":2.2},{"c":"ESP","y":1985,"v":1.64},{"c":"ESP","y":1990,"v":1.36},{"c":"ESP","y":1995,"v":1.17},{"c":"ESP","y":2000,"v":1.23},{"c":"ESP","y":2005,"v":1.33},{"c":"ESP","y":2010,"v":1.37},{"c":"ESP","y":2017,"v":1.31},
{"c":"POL","y":1960,"v":3.0},{"c":"POL","y":1965,"v":2.5},{"c":"POL","y":1970,"v":2.2},{"c":"POL","y":1975,"v":2.3},{"c":"POL","y":1980,"v":2.3},{"c":"POL","y":1985,"v":2.3},{"c":"POL","y":1990,"v":2.0},{"c":"POL","y":1995,"v":1.6},{"c":"POL","y":2000,"v":1.35},{"c":"POL","y":2005,"v":1.24},{"c":"POL","y":2010,"v":1.38},{"c":"POL","y":2017,"v":1.48},
{"c":"RUS","y":1960,"v":2.6},{"c":"RUS","y":1965,"v":2.1},{"c":"RUS","y":1970,"v":2.0},{"c":"RUS","y":1975,"v":2.0},{"c":"RUS","y":1980,"v":1.9},{"c":"RUS","y":1985,"v":2.05},{"c":"RUS","y":1990,"v":1.9},{"c":"RUS","y":1995,"v":1.34},{"c":"RUS","y":2000,"v":1.2},{"c":"RUS","y":2005,"v":1.29},{"c":"RUS","y":2010,"v":1.57},{"c":"RUS","y":2017,"v":1.62},
{"c":"UKR","y":1960,"v":2.2},{"c":"UKR","y":1965,"v":2.0},{"c":"UKR","y":1970,"v":2.1},{"c":"UKR","y":1975,"v":2.0},{"c":"UKR","y":1980,"v":1.95},{"c":"UKR","y":1985,"v":2.05},{"c":"UKR","y":1990,"v":1.85},{"c":"UKR","y":1995,"v":1.4},{"c":"UKR","y":2000,"v":1.1},{"c":"UKR","y":2005,"v":1.2},{"c":"UKR","y":2010,"v":1.45},{"c":"UKR","y":2017,"v":1.4},
{"c":"JPN","y":1960,"v":2.0},{"c":"JPN","y":1965,"v":2.1},{"c":"JPN","y":1970,"v":2.1},{"c":"JPN","y":1975,"v":1.9},{"c":"JPN","y":1980,"v":1.75},{"c":"JPN","y":1985,"v":1.76},{"c":"JPN","y":1990,"v":1.54},{"c":"JPN","y":1995,"v":1.42},{"c":"JPN","y":2000,"v":1.36},{"c":"JPN","y":2005,"v":1.26},{"c":"JPN","y":2010,"v":1.39},{"c":"JPN","y":2017,"v":1.43},
{"c":"HUN","y":1960,"v":2.0},{"c":"HUN","y":1965,"v":1.8},{"c":"HUN","y":1970,"v":2.0},{"c":"HUN","y":1975,"v":2.4},{"c":"HUN","y":1980,"v":1.9},{"c":"HUN","y":1985,"v":1.8},{"c":"HUN","y":1990,"v":1.9},{"c":"HUN","y":1995,"v":1.6},{"c":"HUN","y":2000,"v":1.3},{"c":"HUN","y":2005,"v":1.3},{"c":"HUN","y":2010,"v":1.25},{"c":"HUN","y":2017,"v":1.54},
{"c":"BGR","y":1960,"v":2.3},{"c":"BGR","y":1965,"v":2.1},{"c":"BGR","y":1970,"v":2.2},{"c":"BGR","y":1975,"v":2.2},{"c":"BGR","y":1980,"v":2.05},{"c":"BGR","y":1985,"v":1.95},{"c":"BGR","y":1990,"v":1.8},{"c":"BGR","y":1995,"v":1.2},{"c":"BGR","y":2000,"v":1.3},{"c":"BGR","y":2005,"v":1.4},{"c":"BGR","y":2010,"v":1.57},{"c":"BGR","y":2017,"v":1.56},
{"c":"CZE","y":1960,"v":2.1},{"c":"CZE","y":1965,"v":2.2},{"c":"CZE","y":1970,"v":1.9},{"c":"CZE","y":1975,"v":2.4},{"c":"CZE","y":1980,"v":2.1},{"c":"CZE","y":1985,"v":1.95},{"c":"CZE","y":1990,"v":1.9},{"c":"CZE","y":1995,"v":1.3},{"c":"CZE","y":2000,"v":1.14},{"c":"CZE","y":2005,"v":1.28},{"c":"CZE","y":2010,"v":1.51},{"c":"CZE","y":2017,"v":1.69},
{"c":"SWE","y":1960,"v":2.2},{"c":"SWE","y":1965,"v":2.4},{"c":"SWE","y":1970,"v":1.9},{"c":"SWE","y":1975,"v":1.8},{"c":"SWE","y":1980,"v":1.7},{"c":"SWE","y":1985,"v":1.7},{"c":"SWE","y":1990,"v":2.1},{"c":"SWE","y":1995,"v":1.7},{"c":"SWE","y":2000,"v":1.5},{"c":"SWE","y":2005,"v":1.8},{"c":"SWE","y":2010,"v":1.98},{"c":"SWE","y":2017,"v":1.78},
{"c":"NOR","y":1960,"v":2.9},{"c":"NOR","y":1965,"v":2.9},{"c":"NOR","y":1970,"v":2.5},{"c":"NOR","y":1975,"v":2.0},{"c":"NOR","y":1980,"v":1.7},{"c":"NOR","y":1985,"v":1.7},{"c":"NOR","y":1990,"v":1.9},{"c":"NOR","y":1995,"v":1.9},{"c":"NOR","y":2000,"v":1.85},{"c":"NOR","y":2005,"v":1.84},{"c":"NOR","y":2010,"v":1.95},{"c":"NOR","y":2017,"v":1.62},
{"c":"NLD","y":1960,"v":3.1},{"c":"NLD","y":1965,"v":3.0},{"c":"NLD","y":1970,"v":2.6},{"c":"NLD","y":1975,"v":1.7},{"c":"NLD","y":1980,"v":1.6},{"c":"NLD","y":1985,"v":1.5},{"c":"NLD","y":1990,"v":1.6},{"c":"NLD","y":1995,"v":1.5},{"c":"NLD","y":2000,"v":1.7},{"c":"NLD","y":2005,"v":1.7},{"c":"NLD","y":2010,"v":1.8},{"c":"NLD","y":2017,"v":1.62},
{"c":"PRT","y":1960,"v":3.2},{"c":"PRT","y":1965,"v":3.1},{"c":"PRT","y":1970,"v":3.0},{"c":"PRT","y":1975,"v":2.75},{"c":"PRT","y":1980,"v":2.2},{"c":"PRT","y":1985,"v":1.7},{"c":"PRT","y":1990,"v":1.6},{"c":"PRT","y":1995,"v":1.4},{"c":"PRT","y":2000,"v":1.55},{"c":"PRT","y":2005,"v":1.4},{"c":"PRT","y":2010,"v":1.4},{"c":"PRT","y":2017,"v":1.37},
{"c":"GRC","y":1960,"v":2.2},{"c":"GRC","y":1965,"v":2.3},{"c":"GRC","y":1970,"v":2.4},{"c":"GRC","y":1975,"v":2.3},{"c":"GRC","y":1980,"v":2.2},{"c":"GRC","y":1985,"v":1.7},{"c":"GRC","y":1990,"v":1.4},{"c":"GRC","y":1995,"v":1.3},{"c":"GRC","y":2000,"v":1.25},{"c":"GRC","y":2005,"v":1.33},{"c":"GRC","y":2010,"v":1.48},{"c":"GRC","y":2017,"v":1.35},
{"c":"ISR","y":1960,"v":3.9},{"c":"ISR","y":1965,"v":3.8},{"c":"ISR","y":1970,"v":4.0},{"c":"ISR","y":1975,"v":3.7},{"c":"ISR","y":1980,"v":3.1},{"c":"ISR","y":1985,"v":3.1},{"c":"ISR","y":1990,"v":2.8},{"c":"ISR","y":1995,"v":2.9},{"c":"ISR","y":2000,"v":2.95},{"c":"ISR","y":2005,"v":2.85},{"c":"ISR","y":2010,"v":3.0},{"c":"ISR","y":2017,"v":3.1},
{"c":"TUN","y":1960,"v":6.9},{"c":"TUN","y":1965,"v":7.1},{"c":"TUN","y":1970,"v":6.4},{"c":"TUN","y":1975,"v":5.7},{"c":"TUN","y":1980,"v":5.2},{"c":"TUN","y":1985,"v":4.6},{"c":"TUN","y":1990,"v":3.5},{"c":"TUN","y":1995,"v":2.6},{"c":"TUN","y":2000,"v":2.1},{"c":"TUN","y":2005,"v":2.0},{"c":"TUN","y":2010,"v":2.1},{"c":"TUN","y":2017,"v":2.2},
{"c":"LBN","y":1960,"v":5.7},{"c":"LBN","y":1965,"v":5.3},{"c":"LBN","y":1970,"v":4.9},{"c":"LBN","y":1975,"v":4.4},{"c":"LBN","y":1980,"v":3.9},{"c":"LBN","y":1985,"v":3.5},{"c":"LBN","y":1990,"v":3.1},{"c":"LBN","y":1995,"v":2.6},{"c":"LBN","y":2000,"v":2.4},{"c":"LBN","y":2005,"v":1.9},{"c":"LBN","y":2010,"v":1.75},{"c":"LBN","y":2017,"v":1.75},
{"c":"ARE","y":1960,"v":6.9},{"c":"ARE","y":1965,"v":6.7},{"c":"ARE","y":1970,"v":6.6},{"c":"ARE","y":1975,"v":6.0},{"c":"ARE","y":1980,"v":5.4},{"c":"ARE","y":1985,"v":4.8},{"c":"ARE","y":1990,"v":4.4},{"c":"ARE","y":1995,"v":3.5},{"c":"ARE","y":2000,"v":2.6},{"c":"ARE","y":2005,"v":2.2},{"c":"ARE","y":2010,"v":1.8},{"c":"ARE","y":2017,"v":1.4},
{"c":"KWT","y":1960,"v":7.2},{"c":"KWT","y":1965,"v":7.4},{"c":"KWT","y":1970,"v":7.2},{"c":"KWT","y":1975,"v":6.4},{"c":"KWT","y":1980,"v":5.3},{"c":"KWT","y":1985,"v":4.6},{"c":"KWT","y":1990,"v":2.6},{"c":"KWT","y":1995,"v":2.9},{"c":"KWT","y":2000,"v":2.6},{"c":"KWT","y":2005,"v":2.4},{"c":"KWT","y":2010,"v":2.25},{"c":"KWT","y":2017,"v":2.05},
{"c":"QAT","y":1960,"v":7.0},{"c":"QAT","y":1965,"v":7.0},{"c":"QAT","y":1970,"v":6.9},{"c":"QAT","y":1975,"v":6.5},{"c":"QAT","y":1980,"v":5.8},{"c":"QAT","y":1985,"v":5.0},{"c":"QAT","y":1990,"v":4.2},{"c":"QAT","y":1995,"v":3.5},{"c":"QAT","y":2000,"v":3.1},{"c":"QAT","y":2005,"v":2.7},{"c":"QAT","y":2010,"v":2.0},{"c":"QAT","y":2017,"v":1.9},
{"c":"PNG","y":1960,"v":6.3},{"c":"PNG","y":1965,"v":6.2},{"c":"PNG","y":1970,"v":6.1},{"c":"PNG","y":1975,"v":5.8},{"c":"PNG","y":1980,"v":5.5},{"c":"PNG","y":1985,"v":5.1},{"c":"PNG","y":1990,"v":4.8},{"c":"PNG","y":1995,"v":4.6},{"c":"PNG","y":2000,"v":4.4},{"c":"PNG","y":2005,"v":4.1},{"c":"PNG","y":2010,"v":3.8},{"c":"PNG","y":2017,"v":3.5},
{"c":"HTI","y":1960,"v":6.3},{"c":"HTI","y":1965,"v":6.2},{"c":"HTI","y":1970,"v":5.9},{"c":"HTI","y":1975,"v":5.6},{"c":"HTI","y":1980,"v":6.1},{"c":"HTI","y":1985,"v":5.8},{"c":"HTI","y":1990,"v":5.4},{"c":"HTI","y":1995,"v":4.7},{"c":"HTI","y":2000,"v":4.3},{"c":"HTI","y":2005,"v":3.9},{"c":"HTI","y":2010,"v":3.4},{"c":"HTI","y":2017,"v":2.9},
{"c":"DOM","y":1960,"v":7.4},{"c":"DOM","y":1965,"v":7.0},{"c":"DOM","y":1970,"v":6.3},{"c":"DOM","y":1975,"v":5.2},{"c":"DOM","y":1980,"v":4.4},{"c":"DOM","y":1985,"v":3.9},{"c":"DOM","y":1990,"v":3.5},{"c":"DOM","y":1995,"v":3.1},{"c":"DOM","y":2000,"v":2.8},{"c":"DOM","y":2005,"v":2.6},{"c":"DOM","y":2010,"v":2.5},{"c":"DOM","y":2017,"v":2.35},
{"c":"SLV","y":1960,"v":6.7},{"c":"SLV","y":1965,"v":6.6},{"c":"SLV","y":1970,"v":6.3},{"c":"SLV","y":1975,"v":5.8},{"c":"SLV","y":1980,"v":5.3},{"c":"SLV","y":1985,"v":4.6},{"c":"SLV","y":1990,"v":4.0},{"c":"SLV","y":1995,"v":3.5},{"c":"SLV","y":2000,"v":2.9},{"c":"SLV","y":2005,"v":2.4},{"c":"SLV","y":2010,"v":2.2},{"c":"SLV","y":2017,"v":2.05},
{"c":"VEN","y":1960,"v":6.6},{"c":"VEN","y":1965,"v":6.1},{"c":"VEN","y":1970,"v":5.4},{"c":"VEN","y":1975,"v":4.8},{"c":"VEN","y":1980,"v":4.2},{"c":"VEN","y":1985,"v":3.8},{"c":"VEN","y":1990,"v":3.4},{"c":"VEN","y":1995,"v":3.0},{"c":"VEN","y":2000,"v":2.8},{"c":"VEN","y":2005,"v":2.6},{"c":"VEN","y":2010,"v":2.4},{"c":"VEN","y":2017,"v":2.3},
{"c":"ECU","y":1960,"v":6.7},{"c":"ECU","y":1965,"v":6.5},{"c":"ECU","y":1970,"v":6.2},{"c":"ECU","y":1975,"v":5.5},{"c":"ECU","y":1980,"v":4.9},{"c":"ECU","y":1985,"v":4.3},{"c":"ECU","y":1990,"v":3.8},{"c":"ECU","y":1995,"v":3.4},{"c":"ECU","y":2000,"v":3.0},{"c":"ECU","y":2005,"v":2.8},{"c":"ECU","y":2010,"v":2.6},{"c":"ECU","y":2017,"v":2.45},
{"c":"PRY","y":1960,"v":6.4},{"c":"PRY","y":1965,"v":6.2},{"c":"PRY","y":1970,"v":5.8},{"c":"PRY","y":1975,"v":5.4},{"c":"PRY","y":1980,"v":5.1},{"c":"PRY","y":1985,"v":4.9},{"c":"PRY","y":1990,"v":4.5},{"c":"PRY","y":1995,"v":4.1},{"c":"PRY","y":2000,"v":3.6},{"c":"PRY","y":2005,"v":3.1},{"c":"PRY","y":2010,"v":2.8},{"c":"PRY","y":2017,"v":2.45},
{"c":"CRI","y":1960,"v":6.7},{"c":"CRI","y":1965,"v":6.2},{"c":"CRI","y":1970,"v":4.8},{"c":"CRI","y":1975,"v":3.8},{"c":"CRI","y":1980,"v":3.6},{"c":"CRI","y":1985,"v":3.5},{"c":"CRI","y":1990,"v":3.1},{"c":"CRI","y":1995,"v":2.7},{"c":"CRI","y":2000,"v":2.4},{"c":"CRI","y":2005,"v":2.0},{"c":"CRI","y":2010,"v":1.85},{"c":"CRI","y":2017,"v":1.74},
{"c":"UZB","y":1960,"v":5.6},{"c":"UZB","y":1965,"v":5.6},{"c":"UZB","y":1970,"v":5.8},{"c":"UZB","y":1975,"v":5.6},{"c":"UZB","y":1980,"v":5.2},{"c":"UZB","y":1985,"v":4.7},{"c":"UZB","y":1990,"v":4.1},{"c":"UZB","y":1995,"v":3.6},{"c":"UZB","y":2000,"v":2.5},{"c":"UZB","y":2005,"v":2.4},{"c":"UZB","y":2010,"v":2.5},{"c":"UZB","y":2017,"v":2.4},
{"c":"KAZ","y":1960,"v":4.6},{"c":"KAZ","y":1965,"v":4.2},{"c":"KAZ","y":1970,"v":3.5},{"c":"KAZ","y":1975,"v":3.3},{"c":"KAZ","y":1980,"v":3.0},{"c":"KAZ","y":1985,"v":3.1},{"c":"KAZ","y":1990,"v":2.8},{"c":"KAZ","y":1995,"v":2.2},{"c":"KAZ","y":2000,"v":1.85},{"c":"KAZ","y":2005,"v":2.2},{"c":"KAZ","y":2010,"v":2.6},{"c":"KAZ","y":2017,"v":2.75},
{"c":"TJK","y":1960,"v":6.2},{"c":"TJK","y":1965,"v":6.5},{"c":"TJK","y":1970,"v":6.8},{"c":"TJK","y":1975,"v":6.3},{"c":"TJK","y":1980,"v":5.6},{"c":"TJK","y":1985,"v":5.4},{"c":"TJK","y":1990,"v":5.3},{"c":"TJK","y":1995,"v":4.6},{"c":"TJK","y":2000,"v":3.9},{"c":"TJK","y":2005,"v":3.5},{"c":"TJK","y":2010,"v":3.5},{"c":"TJK","y":2017,"v":3.4},
{"c":"NAM","y":1960,"v":6.1},{"c":"NAM","y":1965,"v":6.2},{"c":"NAM","y":1970,"v":6.5},{"c":"NAM","y":1975,"v":6.6},{"c":"NAM","y":1980,"v":6.2},{"c":"NAM","y":1985,"v":5.8},{"c":"NAM","y":1990,"v":5.2},{"c":"NAM","y":1995,"v":4.5},{"c":"NAM","y":2000,"v":4.0},{"c":"NAM","y":2005,"v":3.6},{"c":"NAM","y":2010,"v":3.6},{"c":"NAM","y":2017,"v":3.4},
{"c":"MUS","y":1960,"v":6.2},{"c":"MUS","y":1965,"v":5.8},{"c":"MUS","y":1970,"v":4.0},{"c":"MUS","y":1975,"v":3.2},{"c":"MUS","y":1980,"v":2.6},{"c":"MUS","y":1985,"v":2.2},{"c":"MUS","y":1990,"v":2.3},{"c":"MUS","y":1995,"v":2.2},{"c":"MUS","y":2000,"v":2.0},{"c":"MUS","y":2005,"v":1.9},{"c":"MUS","y":2010,"v":1.5},{"c":"MUS","y":2017,"v":1.4},
{"c":"TLS","y":1960,"v":6.4},{"c":"TLS","y":1965,"v":6.2},{"c":"TLS","y":1970,"v":5.9},{"c":"TLS","y":1975,"v":5.5},{"c":"TLS","y":1980,"v":5.3},{"c":"TLS","y":1985,"v":5.4},{"c":"TLS","y":1990,"v":5.4},{"c":"TLS","y":1995,"v":6.3},{"c":"TLS","y":2000,"v":7.0},{"c":"TLS","y":2005,"v":6.3},{"c":"TLS","y":2010,"v":5.4},{"c":"TLS","y":2017,"v":4.1},
{"c":"GAB","y":1960,"v":4.4},{"c":"GAB","y":1965,"v":4.6},{"c":"GAB","y":1970,"v":5.0},{"c":"GAB","y":1975,"v":5.4},{"c":"GAB","y":1980,"v":5.6},{"c":"GAB","y":1985,"v":5.5},{"c":"GAB","y":1990,"v":5.2},{"c":"GAB","y":1995,"v":4.8},{"c":"GAB","y":2000,"v":4.4},{"c":"GAB","y":2005,"v":4.2},{"c":"GAB","y":2010,"v":4.1},{"c":"GAB","y":2017,"v":3.9},
{"c":"GMB","y":1960,"v":5.6},{"c":"GMB","y":1965,"v":5.9},{"c":"GMB","y":1970,"v":6.2},{"c":"GMB","y":1975,"v":6.4},{"c":"GMB","y":1980,"v":6.4},{"c":"GMB","y":1985,"v":6.3},{"c":"GMB","y":1990,"v":6.1},{"c":"GMB","y":1995,"v":5.9},{"c":"GMB","y":2000,"v":5.8},{"c":"GMB","y":2005,"v":5.7},{"c":"GMB","y":2010,"v":5.5},{"c":"GMB","y":2017,"v":5.2},
{"c":"GIN","y":1960,"v":6.1},{"c":"GIN","y":1965,"v":6.2},{"c":"GIN","y":1970,"v":6.3},{"c":"GIN","y":1975,"v":6.5},{"c":"GIN","y":1980,"v":6.6},{"c":"GIN","y":1985,"v":6.6},{"c":"GIN","y":1990,"v":6.6},{"c":"GIN","y":1995,"v":6.4},{"c":"GIN","y":2000,"v":6.0},{"c":"GIN","y":2005,"v":5.6},{"c":"GIN","y":2010,"v":5.2},{"c":"GIN","y":2017,"v":4.7},
{"c":"SLE","y":1960,"v":6.1},{"c":"SLE","y":1965,"v":6.2},{"c":"SLE","y":1970,"v":6.5},{"c":"SLE","y":1975,"v":6.7},{"c":"SLE","y":1980,"v":6.9},{"c":"SLE","y":1985,"v":6.9},{"c":"SLE","y":1990,"v":6.8},{"c":"SLE","y":1995,"v":6.6},{"c":"SLE","y":2000,"v":6.3},{"c":"SLE","y":2005,"v":5.7},{"c":"SLE","y":2010,"v":5.1},{"c":"SLE","y":2017,"v":4.3},
{"c":"LBR","y":1960,"v":6.4},{"c":"LBR","y":1965,"v":6.6},{"c":"LBR","y":1970,"v":6.8},{"c":"LBR","y":1975,"v":7.0},{"c":"LBR","y":1980,"v":7.1},{"c":"LBR","y":1985,"v":7.0},{"c":"LBR","y":1990,"v":6.4},{"c":"LBR","y":1995,"v":6.1},{"c":"LBR","y":2000,"v":6.0},{"c":"LBR","y":2005,"v":5.6},{"c":"LBR","y":2010,"v":5.0},{"c":"LBR","y":2017,"v":4.4},
{"c":"TGO","y":1960,"v":6.5},{"c":"TGO","y":1965,"v":6.8},{"c":"TGO","y":1970,"v":7.0},{"c":"TGO","y":1975,"v":7.1},{"c":"TGO","y":1980,"v":6.9},{"c":"TGO","y":1985,"v":6.6},{"c":"TGO","y":1990,"v":6.2},{"c":"TGO","y":1995,"v":5.6},{"c":"TGO","y":2000,"v":5.2},{"c":"TGO","y":2005,"v":4.9},{"c":"TGO","y":2010,"v":4.7},{"c":"TGO","y":2017,"v":4.4},
{"c":"ERI","y":1960,"v":6.9},{"c":"ERI","y":1965,"v":6.8},{"c":"ERI","y":1970,"v":6.7},{"c":"ERI","y":1975,"v":6.6},{"c":"ERI","y":1980,"v":6.6},{"c":"ERI","y":1985,"v":6.6},{"c":"ERI","y":1990,"v":6.5},{"c":"ERI","y":1995,"v":6.2},{"c":"ERI","y":2000,"v":5.5},{"c":"ERI","y":2005,"v":5.1},{"c":"ERI","y":2010,"v":4.8},{"c":"ERI","y":2017,"v":4.1},
{"c":"COM","y":1960,"v":6.9},{"c":"COM","y":1965,"v":7.0},{"c":"COM","y":1970,"v":7.1},{"c":"COM","y":1975,"v":7.1},{"c":"COM","y":1980,"v":7.0},{"c":"COM","y":1985,"v":6.6},{"c":"COM","y":1990,"v":6.2},{"c":"COM","y":1995,"v":5.6},{"c":"COM","y":2000,"v":5.2},{"c":"COM","y":2005,"v":4.9},{"c":"COM","y":2010,"v":4.6},{"c":"COM","y":2017,"v":4.3},
{"c":"WSM","y":1960,"v":7.6},{"c":"WSM","y":1965,"v":7.4},{"c":"WSM","y":1970,"v":7.0},{"c":"WSM","y":1975,"v":6.4},{"c":"WSM","y":1980,"v":5.8},{"c":"WSM","y":1985,"v":5.2},{"c":"WSM","y":1990,"v":4.9},{"c":"WSM","y":1995,"v":4.6},{"c":"WSM","y":2000,"v":4.5},{"c":"WSM","y":2005,"v":4.4},{"c":"WSM","y":2010,"v":4.2},{"c":"WSM","y":2017,"v":3.9},
{"c":"SLB","y":1960,"v":6.4},{"c":"SLB","y":1965,"v":6.7},{"c":"SLB","y":1970,"v":7.1},{"c":"SLB","y":1975,"v":7.1},{"c":"SLB","y":1980,"v":6.6},{"c":"SLB","y":1985,"v":6.1},{"c":"SLB","y":1990,"v":5.6},{"c":"SLB","y":1995,"v":5.1},{"c":"SLB","y":2000,"v":4.6},{"c":"SLB","y":2005,"v":4.4},{"c":"SLB","y":2010,"v":4.2},{"c":"SLB","y":2017,"v":3.9}
],
"focus":[
{"c":"World","y":1960,"v":4.98},{"c":"World","y":1961,"v":5.0},{"c":"World","y":1962,"v":5.02},{"c":"World","y":1963,"v":5.04},{"c":"World","y":1964,"v":5.05},{"c":"World","y":1965,"v":5.03},{"c":"World","y":1966,"v":4.98},{"c":"World","y":1967,"v":4.95},{"c":"World","y":1968,"v":4.9},{"c":"World","y":1969,"v":4.84},
{"c":"World","y":1970,"v":4.74},{"c":"World","y":1971,"v":4.63},{"c":"World","y":1972,"v":4.5},{"c":"World","y":1973,"v":4.37},{"c":"World","y":1974,"v":4.24},{"c":"World","y":1975,"v":4.11},{"c":"World","y":1976,"v":4.0},{"c":"World","y":1977,"v":3.92},{"c":"World","y":1978,"v":3.84},{"c":"World","y":1979,"v":3.77},
{"c":"World","y":1980,"v":3.7},{"c":"World","y":1981,"v":3.66},{"c":"World","y":1982,"v":3.64},{"c":"World","y":1983,"v":3.61},{"c":"World","y":1984,"v":3.57},{"c":"World","y":1985,"v":3.54},{"c":"World","y":1986,"v":3.51},{"c":"World","y":1987,"v":3.45},{"c":"World","y":1988,"v":3.37},{"c":"World","y":1989,"v":3.29},
{"c":"World","y":1990,"v":3.22},{"c":"World","y":1991,"v":3.14},{"c":"World","y":1992,"v":3.05},{"c":"World","y":1993,"v":2.97},{"c":"World","y":1994,"v":2.9},{"c":"World","y":1995,"v":2.84},{"c":"World","y":1996,"v":2.8},{"c":"World","y":1997,"v":2.77},{"c":"World","y":1998,"v":2.75},{"c":"World","y":1999,"v":2.72},
{"c":"World","y":2000,"v":2.7},{"c":"World","y":2001,"v":2.67},{"c":"World","y":2002,"v":2.65},{"c":"World","y":2003,"v":2.63},{"c":"World","y":2004,"v":2.61},{"c":"World","y":2005,"v":2.59},{"c":"World","y":2006,"v":2.58},{"c":"World","y":2007,"v":2.57},{"c":"World","y":2008,"v":2.56},{"c":"World","y":2009,"v":2.54},
{"c":"World","y":2010,"v":2.52},{"c":"World","y":2011,"v":2.51},{"c":"World","y":2012,"v":2.5},{"c":"World","y":2013,"v":2.49},{"c":"World","y":2014,"v":2.48},{"c":"World","y":2015,"v":2.47},{"c":"World","y":2016,"v":2.46},{"c":"World","y":2017,"v":2.45},
{"c":"Rwanda","y":1960,"v":8.18},{"c":"Rwanda","y":1961,"v":8.18},{"c":"Rwanda","y":1962,"v":8.19},{"c":"Rwanda","y":1963,"v":8.19},{"c":"Rwanda","y":1964,"v":8.19},{"c":"Rwanda","y":1965,"v":8.19},{"c":"Rwanda","y":1966,"v":8.2},{"c":"Rwanda","y":1967,"v":8.2},{"c":"Rwanda","y":1968,"v":8.21},{"c":"Rwanda","y":1969,"v":8.21},
{"c":"Rwanda","y":1970,"v":8.23},{"c":"Rwanda","y":1971,"v":8.25},{"c":"Rwanda","y":1972,"v":8.28},{"c":"Rwanda","y":1973,"v":8.31},{"c":"Rwanda","y":1974,"v":8.34},{"c":"Rwanda","y":1975,"v":8.37},{"c":"Rwanda","y":1976,"v":8.39},{"c":"Rwanda","y":1977,"v":8.42},{"c":"Rwanda","y":1978,"v":8.44},{"c":"Rwanda","y":1979,"v":8.45},
{"c":"Rwanda","y":1980,"v":8.45},{"c":"Rwanda","y":1981,"v":8.44},{"c":"Rwanda","y":1982,"v":8.41},{"c":"Rwanda","y":1983,"v":8.36},{"c":"Rwanda","y":1984,"v":8.28},{"c":"Rwanda","y":1985,"v":8.17},{"c":"Rwanda","y":1986,"v":8.04},{"c":"Rwanda","y":1987,"v":7.84},{"c":"Rwanda","y":1988,"v":7.63},{"c":"Rwanda","y":1989,"v":7.4},
{"c":"Rwanda","y":1990,"v":7.12},{"c":"Rwanda","y":1991,"v":6.9},{"c":"Rwanda","y":1992,"v":6.69},{"c":"Rwanda","y":1993,"v":6.49},{"c":"Rwanda","y":1994,"v":6.33},{"c":"Rwanda","y":1995,"v":6.18},{"c":"Rwanda","y":1996,"v":6.02},{"c":"Rwanda","y":1997,"v":5.9},{"c":"Rwanda","y":1998,"v":5.8},{"c":"Rwanda","y":1999,"v":5.73},
{"c":"Rwanda","y":2000,"v":5.65},{"c":"Rwanda","y":2001,"v":5.55},{"c":"Rwanda","y":2002,"v":5.46},{"c":"Rwanda","y":2003,"v":5.35},{"c":"Rwanda","y":2004,"v":5.24},{"c":"Rwanda","y":2005,"v":5.11},{"c":"Rwanda","y":2006,"v":5.0},{"c":"Rwanda","y":2007,"v":4.89},{"c":"Rwanda","y":2008,"v":4.75},{"c":"Rwanda","y":2009,"v":4.61},
{"c":"Rwanda","y":2010,"v":4.48},{"c":"Rwanda","y":2011,"v":4.39},{"c":"Rwanda","y":2012,"v":4.31},{"c":"Rwanda","y":2013,"v":4.25},{"c":"Rwanda","y":2014,"v":4.19},{"c":"Rwanda","y":2015,"v":4.15},{"c":"Rwanda","y":2016,"v":4.12},{"c":"Rwanda","y":2017,"v":4.1}
]
},
"layer":[
{"data":{"values":[{}]},
 "mark":{"type":"text","text":["The Global","Fertility Crash"],"font":"Liberation Serif","fontSize":217,"lineHeight":228,"align":"center","baseline":"alphabetic","color":"#000000","stroke":"#000000","strokeWidth":3.5},
 "encoding":{"x":{"datum":1987.9,"type":"quantitative","title":null},"y":{"datum":5.455,"type":"quantitative","title":"Live births per woman"}}},
{"data":{"name":"countries"},
 "mark":{"type":"line","interpolate":"monotone","stroke":"#c4c4c4","strokeWidth":1,"opacity":0.55},
 "encoding":{
  "x":{"field":"y","type":"quantitative","title":null,"scale":{"domain":[1960,2017],"nice":false,"zero":false},
   "axis":{"orient":"bottom","values":[1960,1970,1980,1990,2000,2010,2017],"format":"d","domain":false,"tickSize":-17,"tickColor":"#555555","labelPadding":23,"labelFlush":false,"labelOverlap":false}},
  "y":{"field":"v","type":"quantitative","title":"Live births per woman","scale":{"domain":[0.76,8.76],"nice":false,"zero":false},
   "axis":{"orient":"right","values":[1,2,3,4,5,6,7,8],"format":"d","domainColor":"#777777","tickColor":"#333333","tickSize":15,"labelFontSize":18,"labelAlign":"right","labelBaseline":"alphabetic","labelPadding":2,"labelOffset":-4,"titleAngle":0,"titleAlign":"right","titleBaseline":"middle","titleX":17,"titleY":-13,"titleFontSize":20,"titleFontWeight":"normal","titleColor":"#111111"}},
  "detail":{"field":"c","type":"nominal"}}},
{"data":{"values":[{}]},
 "mark":{"type":"rule","color":"#777777","strokeWidth":1},
 "encoding":{"x":{"datum":1960,"type":"quantitative","title":null}}},
{"data":{"name":"focus"},
 "transform":[{"filter":"datum.c == 'World'"}],
 "mark":{"type":"line","interpolate":"monotone","color":"#ff0000","strokeWidth":3},
 "encoding":{"x":{"field":"y","type":"quantitative","title":null},"y":{"field":"v","type":"quantitative","title":"Live births per woman"}}},
{"data":{"name":"focus"},
 "transform":[{"filter":"datum.c == 'Rwanda'"}],
 "mark":{"type":"line","interpolate":"monotone","strokeWidth":2},
 "encoding":{"x":{"field":"y","type":"quantitative","title":null},"y":{"field":"v","type":"quantitative","title":"Live births per woman"},
  "color":{"field":"c","type":"nominal","scale":{"domain":["Rwanda"," "],"range":["#1f80f0","#ffffff"]},
   "legend":{"title":null,"orient":"none","legendX":-13,"legendY":892,"values":["Rwanda"," "],"columns":2,"columnPadding":162,"symbolOpacity":0,"symbolSize":1,"symbolStrokeWidth":0,"labelOffset":-19,"labelFont":"Liberation Serif","labelFontSize":19,"labelColor":"#111111","labelLimit":300,"padding":12,"strokeColor":"#333333","fillColor":"#ffffff"}}}},
{"data":{"name":"focus"},
 "transform":[{"filter":"datum.c == 'World' && datum.y == 1960"}],
 "mark":{"type":"text","text":["World","average"],"font":"Liberation Serif","fontSize":19,"lineHeight":20,"align":"left","baseline":"middle","dx":-65,"dy":-11,"color":"#ff0000"},
 "encoding":{"x":{"field":"y","type":"quantitative","title":null},"y":{"field":"v","type":"quantitative","title":"Live births per woman"}}}
]
}
